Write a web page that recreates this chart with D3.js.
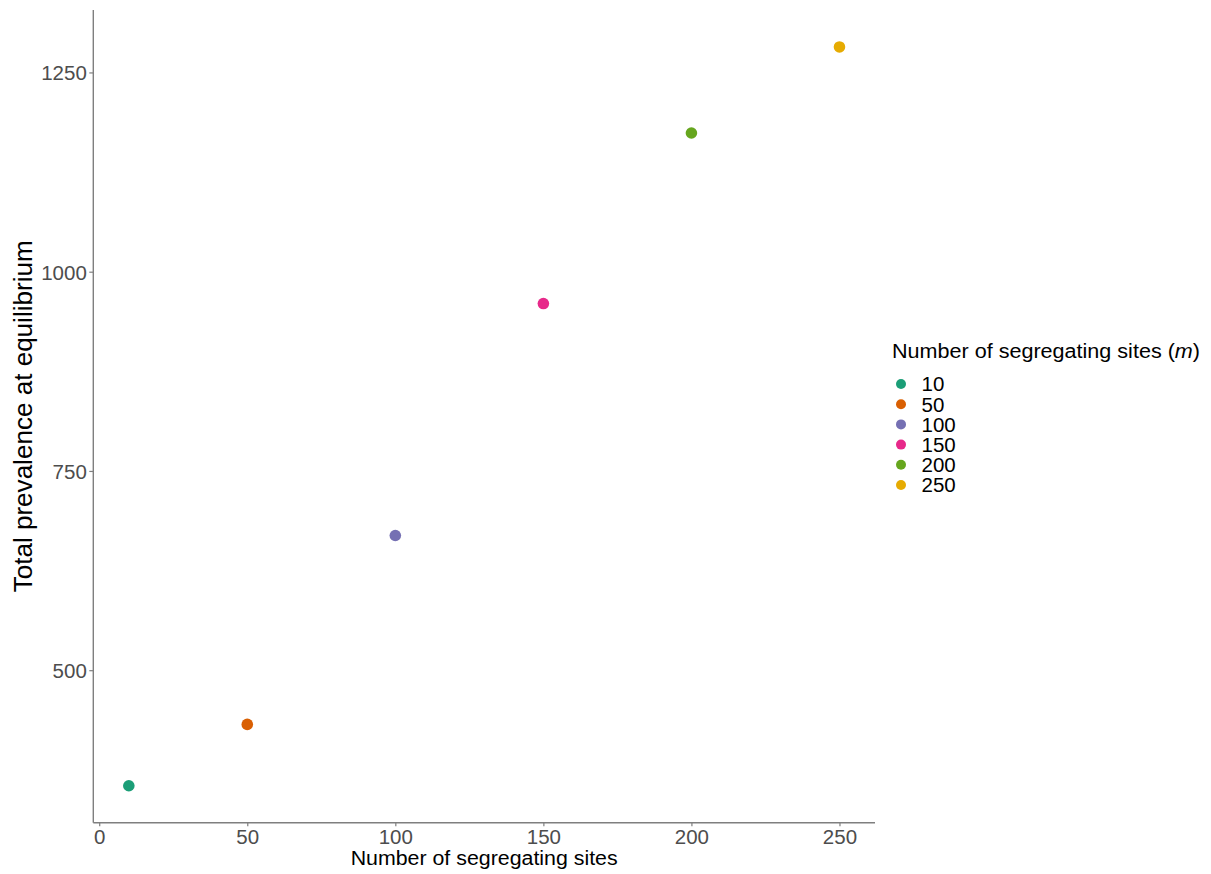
<!DOCTYPE html>
<html>
<head>
<meta charset="utf-8">
<script src="https://cdn.jsdelivr.net/npm/d3@7"></script>
<style>
  html, body { margin: 0; padding: 0; background: #ffffff; }
  svg { display: block; font-family: "Liberation Sans", Arial, Helvetica, sans-serif; }
</style>
</head>
<body>
<svg id="chart" width="1211" height="874"></svg>
<script>
// Segregating sites (m) and the total prevalence reached at equilibrium
const sites = [10, 50, 100, 150, 200, 250];
const prevalence = [355, 432, 669, 960, 1174, 1282];
const siteLabels = ["10", "50", "100", "150", "200", "250"];
const colours = ["#1B9E77", "#D95F02", "#7570B3", "#E7298A", "#66A61E", "#E6AB02"];
const xTicks = [0, 50, 100, 150, 200, 250];
const yTicks = [500, 750, 1000, 1250];

const svg = d3.select("#chart");
const panel = { left: 93.3, right: 875, top: 10, bottom: 822.7 };

// 5% padding on each side of the data range
function padded(values) {
  const [lo, hi] = d3.extent(values);
  const pad = (hi - lo) * 0.05;
  return [lo - pad, hi + pad];
}

const x = d3.scaleLinear().domain(padded(sites)).range([panel.left, panel.right]);
const y = d3.scaleLinear().domain(padded(prevalence)).range([panel.bottom, panel.top]);

const axisColour = "#7f7f7f";
const tickText = "#4d4d4d";

// x axis
const gx = svg.append("g")
  .attr("transform", `translate(0,${panel.bottom})`)
  .call(d3.axisBottom(x).tickValues(xTicks).tickSize(3.5).tickPadding(3).tickFormat(d3.format("d")));
gx.select(".domain").attr("stroke", axisColour).attr("stroke-width", 1.4)
  .attr("d", `M${panel.left},0H${panel.right}`);
gx.selectAll(".tick line").attr("stroke", axisColour).attr("stroke-width", 1.2);
gx.selectAll(".tick text").attr("fill", tickText).attr("font-size", 20.5)
  .attr("font-family", null).attr("dy", "0.72em");

// y axis
const gy = svg.append("g")
  .attr("transform", `translate(${panel.left},0)`)
  .call(d3.axisLeft(y).tickValues(yTicks).tickSize(4).tickPadding(2.5).tickFormat(d3.format("d")));
gy.select(".domain").attr("stroke", axisColour).attr("stroke-width", 1.4)
  .attr("d", `M0,${panel.top}V${panel.bottom}`);
gy.selectAll(".tick line").attr("stroke", axisColour).attr("stroke-width", 1.2);
gy.selectAll(".tick text").attr("fill", tickText).attr("font-size", 20.5)
  .attr("font-family", null).attr("dy", "0.36em");

// axis titles
svg.append("text")
  .attr("x", (panel.left + panel.right) / 2)
  .attr("y", 865)
  .attr("text-anchor", "middle")
  .attr("font-size", 20)
  .attr("textLength", 267)
  .attr("lengthAdjust", "spacingAndGlyphs")
  .attr("fill", "#000")
  .text("Number of segregating sites");

svg.append("text")
  .attr("transform", `translate(32,${(panel.top + panel.bottom) / 2}) rotate(-90)`)
  .attr("text-anchor", "middle")
  .attr("font-size", 25)
  .attr("textLength", 352)
  .attr("lengthAdjust", "spacingAndGlyphs")
  .attr("fill", "#000")
  .text("Total prevalence at equilibrium");

// points
svg.append("g").selectAll("circle")
  .data(sites.map((s, i) => ({ s, p: prevalence[i], c: colours[i] })))
  .join("circle")
  .attr("cx", d => x(d.s))
  .attr("cy", d => y(d.p))
  .attr("r", 5.8)
  .attr("fill", d => d.c);

// legend
const legend = svg.append("g").attr("transform", "translate(892,0)");
const lt = legend.append("text")
  .attr("x", 0).attr("y", 358)
  .attr("font-size", 19.5)
  .attr("textLength", 308)
  .attr("lengthAdjust", "spacingAndGlyphs")
  .attr("fill", "#000");
lt.append("tspan").text("Number of segregating sites (");
lt.append("tspan").attr("font-style", "italic").text("m");
lt.append("tspan").text(")");

const items = legend.selectAll("g.item")
  .data(siteLabels.map((l, i) => ({ l, c: colours[i], i })))
  .join("g")
  .attr("class", "item")
  .attr("transform", d => `translate(0,${384 + d.i * 20.2})`);
items.append("circle").attr("cx", 9).attr("cy", 0).attr("r", 5).attr("fill", d => d.c);
items.append("text").attr("x", 29.5).attr("y", 7.4)
  .attr("font-size", 20.5).attr("fill", "#000").text(d => d.l);
</script>
</body>
</html>
